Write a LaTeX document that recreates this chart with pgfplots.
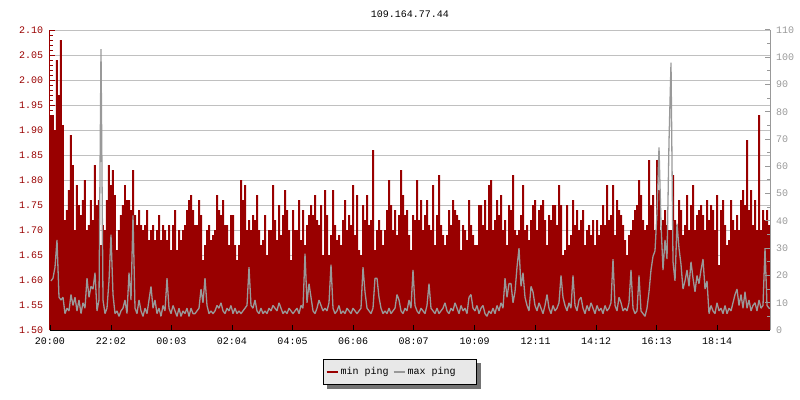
\documentclass[border=0pt]{standalone}
\usepackage{fontspec}
\setmainfont{Liberation Mono}
\setmonofont{Liberation Mono}
\usepackage{pgfplots}
\pgfplotsset{compat=1.18}
\usepackage{pgfplotstable}
\usetikzlibrary{backgrounds}

\definecolor{minred}{HTML}{990000}
\definecolor{maxgray}{HTML}{999999}
\definecolor{gridgray}{HTML}{C0C0C0}
\definecolor{legbg}{HTML}{E8E8E8}

% min ping (ms), one sample every 4 minutes from 20:00
\pgfplotstableread[row sep=\\]{
v\\
1.93\\1.93\\1.90\\2.04\\1.97\\2.08\\1.91\\1.72\\1.74\\1.78\\
1.89\\1.83\\1.70\\1.79\\1.75\\1.73\\1.76\\1.80\\1.70\\1.71\\
1.76\\1.72\\1.83\\1.75\\1.76\\1.67\\1.71\\1.70\\1.76\\1.83\\
1.79\\1.82\\1.77\\1.66\\1.70\\1.73\\1.75\\1.79\\1.76\\1.76\\
1.74\\1.82\\1.73\\1.71\\1.74\\1.71\\1.70\\1.71\\1.74\\1.68\\
1.70\\1.71\\1.68\\1.70\\1.73\\1.68\\1.71\\1.70\\1.68\\1.71\\
1.66\\1.71\\1.74\\1.66\\1.70\\1.68\\1.70\\1.71\\1.74\\1.76\\
1.77\\1.74\\
1.71\\1.71\\1.76\\1.73\\1.64\\1.67\\1.70\\1.71\\1.68\\1.69\\
1.70\\1.77\\1.74\\1.73\\1.76\\1.71\\1.71\\1.67\\1.73\\1.73\\
1.67\\1.64\\1.67\\1.80\\1.76\\1.79\\1.70\\1.72\\1.70\\1.73\\
1.72\\1.77\\1.70\\1.67\\1.68\\1.73\\1.65\\1.70\\1.70\\1.79\\
1.72\\1.68\\1.75\\1.69\\1.73\\1.78\\1.74\\1.70\\1.64\\1.74\\
1.70\\1.70\\1.76\\1.68\\1.74\\1.67\\1.71\\1.73\\1.75\\1.73\\
1.77\\1.72\\1.71\\1.75\\1.65\\1.78\\1.73\\1.65\\1.69\\1.78\\
1.71\\1.68\\
1.69\\1.67\\1.72\\1.76\\1.70\\1.73\\1.71\\1.79\\1.69\\1.77\\
1.66\\1.65\\1.75\\1.72\\1.77\\1.71\\1.72\\1.86\\1.66\\1.70\\
1.72\\1.70\\1.67\\1.70\\1.74\\1.80\\1.75\\1.70\\1.74\\1.69\\
1.73\\1.82\\1.77\\1.73\\1.74\\1.69\\1.66\\1.73\\1.72\\1.80\\
1.72\\1.76\\1.70\\1.73\\1.76\\1.71\\1.70\\1.79\\1.67\\1.73\\
1.81\\1.71\\1.69\\1.67\\1.69\\1.74\\1.71\\1.76\\1.74\\1.73\\
1.72\\1.66\\1.71\\1.70\\1.68\\1.76\\1.71\\1.69\\1.67\\1.67\\
1.75\\1.75\\
1.71\\1.76\\1.70\\1.79\\1.80\\1.70\\1.72\\1.76\\1.73\\1.77\\
1.70\\1.72\\1.67\\1.75\\1.74\\1.81\\1.70\\1.69\\1.70\\1.73\\
1.79\\1.70\\1.71\\1.68\\1.72\\1.75\\1.76\\1.70\\1.74\\1.75\\
1.76\\1.72\\1.67\\1.73\\1.72\\1.75\\1.75\\1.71\\1.79\\1.75\\
1.65\\1.66\\1.75\\1.67\\1.69\\1.76\\1.71\\1.74\\1.70\\1.72\\
1.74\\1.67\\1.70\\1.71\\1.69\\1.72\\1.67\\1.72\\1.69\\1.71\\
1.75\\1.71\\1.79\\1.72\\1.73\\1.79\\1.69\\1.76\\1.74\\1.73\\
1.71\\1.68\\
1.65\\1.69\\1.70\\1.72\\1.74\\1.75\\1.80\\1.77\\1.72\\1.70\\
1.71\\1.84\\1.75\\1.77\\1.70\\1.84\\1.78\\1.70\\1.72\\1.74\\
1.71\\1.70\\1.70\\1.81\\1.72\\1.71\\1.76\\1.74\\1.69\\1.71\\
1.77\\1.70\\1.75\\1.79\\1.70\\1.73\\1.74\\1.75\\1.73\\1.70\\
1.76\\1.72\\1.75\\1.74\\1.70\\1.77\\1.63\\1.74\\1.76\\1.71\\
1.67\\1.68\\1.76\\1.72\\1.70\\1.73\\1.70\\1.76\\1.78\\1.75\\
1.88\\1.74\\1.78\\1.71\\1.76\\1.70\\1.93\\1.70\\1.74\\1.72\\
1.74\\1.71\\1.71\\
}\minping

% max ping (ms), same sampling
\pgfplotstableread[row sep=\\]{
v\\
18\\19\\23\\33\\12\\11\\12\\6\\8\\7\\
13\\9\\12\\7\\11\\6\\10\\8\\19\\12\\
16\\15\\21\\7\\11\\103\\11\\6\\8\\18\\
35\\13\\6\\7\\5\\7\\8\\11\\6\\21\\
11\\42\\8\\6\\11\\7\\5\\8\\6\\11\\
16\\8\\11\\6\\8\\5\\9\\7\\19\\8\\
6\\9\\7\\5\\8\\5\\7\\6\\8\\5\\
8\\6\\
6\\7\\8\\15\\10\\19\\9\\6\\7\\6\\
7\\9\\8\\10\\7\\6\\8\\7\\9\\6\\
8\\6\\7\\6\\7\\8\\9\\23\\9\\8\\
11\\7\\6\\8\\6\\7\\6\\8\\7\\9\\
8\\7\\10\\8\\6\\7\\6\\8\\7\\6\\
7\\8\\6\\9\\8\\28\\10\\17\\12\\7\\
6\\8\\11\\9\\7\\8\\7\\10\\24\\8\\
6\\7\\
9\\6\\7\\6\\8\\7\\6\\8\\7\\6\\
7\\8\\23\\14\\8\\7\\6\\8\\19\\19\\
12\\8\\6\\7\\6\\8\\6\\7\\8\\13\\
11\\7\\6\\8\\7\\11\\8\\22\\9\\7\\
6\\8\\7\\6\\9\\17\\8\\7\\6\\8\\
6\\7\\8\\10\\7\\6\\8\\7\\10\\8\\
6\\9\\7\\8\\6\\12\\13\\8\\7\\9\\
6\\8\\
9\\6\\5\\7\\6\\8\\6\\9\\7\\10\\
8\\19\\12\\17\\17\\10\\14\\23\\30\\16\\
21\\12\\9\\7\\16\\14\\9\\7\\10\\8\\
6\\9\\13\\8\\6\\9\\7\\8\\10\\20\\
12\\9\\7\\10\\8\\20\\9\\7\\11\\12\\
8\\6\\9\\7\\10\\8\\6\\9\\7\\8\\
6\\9\\7\\8\\10\\26\\9\\7\\12\\10\\
7\\8\\
7\\10\\22\\8\\6\\7\\20\\7\\6\\5\\
8\\14\\22\\27\\29\\43\\67\\39\\22\\33\\
26\\69\\98\\25\\18\\39\\30\\24\\15\\18\\
22\\16\\25\\19\\14\\20\\17\\22\\26\\15\\
18\\6\\9\\7\\6\\10\\7\\8\\6\\9\\
6\\8\\7\\10\\13\\15\\9\\13\\8\\14\\
8\\11\\7\\9\\10\\7\\11\\8\\9\\30\\
9\\8\\8\\
}\maxping

\pgfplotsset{
  every axis/.append style={
    at={(0,0)}, anchor=south west,
    scale only axis, width=720bp, height=300bp,
    xmin=0, xmax=1440,
    tick align=inside,
    major tick length=5bp, minor tick length=3bp,
    ticklabel style={font=\fontsize{10bp}{12bp}\selectfont},
  },
}

\begin{document}
\begin{tikzpicture}
\path[use as bounding box] (-50bp,-70bp) rectangle (750bp,330bp);

\begin{axis}[
  ymin=1.5, ymax=2.1,
  axis x line*=bottom, axis y line*=left,
  xtick={0,122,243,364,485,606,727,849,971,1092,1213,1334},
  xticklabels={20:00,22:02,00:03,02:04,04:05,06:06,08:07,10:09,12:11,14:12,16:13,18:14},
  xtick style={draw=none},
  xticklabel style={yshift=-4bp},
  ytick distance=0.05, minor y tick num=4,
  ymajorgrids, grid style={gridgray, line width=1bp},
  y axis line style={minred, line width=1bp},
  x axis line style={black, line width=1bp},
  ytick style={minred, line width=1bp},
  yticklabel style={text=minred, xshift=-3.4bp,
    /pgf/number format/.cd, fixed, fixed zerofill, precision=2, assume math mode=true},
  title={109.164.77.44},
  every axis title/.style={at={(0.5,1)}, anchor=base, yshift=12.7bp,
    font=\fontsize{10bp}{12bp}\selectfont},
  legend image code/.code={\draw[#1] (0bp,0bp) -- (11bp,0bp);},
  legend style={name=leg, at={(0.3792,-0.0967)}, anchor=north west,
    draw=black, line width=1bp, fill=legbg,
    font=\fontsize{10bp}{12bp}\selectfont,
    inner xsep=2bp, inner ysep=6bp,
    /tikz/every even column/.append style={column sep=2bp}},
  legend columns=2,
]
\addplot[const plot, fill=minred, draw=none, forget plot]
  table[x expr=\coordindex*4, y=v] {\minping} \closedcycle;
\addlegendimage{minred, line width=2bp}
\addlegendentry{min ping}
\addlegendimage{maxgray, line width=2bp}
\addlegendentry{max ping\hspace*{17bp}}
\end{axis}

\begin{axis}[
  ymin=0, ymax=110,
  axis x line*=bottom, axis y line*=right,
  xtick={0,122,243,364,485,606,727,849,971,1092,1213,1334},
  xticklabels={},
  x axis line style={black, line width=1bp},
  xtick style={black, line width=1bp},
  ytick distance=10, minor y tick num=1,
  y axis line style={maxgray, line width=1bp},
  ytick style={maxgray, line width=1bp},
  yticklabel style={text=maxgray, xshift=2.7bp,
    /pgf/number format/assume math mode=true},
]
\addplot[sharp plot, maxgray, line width=1.3bp, line join=bevel]
  table[x expr=\coordindex*4+2, y=v] {\maxping};
\end{axis}

\begin{scope}[on background layer]
\fill[black!55] ([shift={(4bp,-4bp)}]leg.south west) rectangle ([shift={(4bp,-4bp)}]leg.north east);
\end{scope}
\end{tikzpicture}
\end{document}
